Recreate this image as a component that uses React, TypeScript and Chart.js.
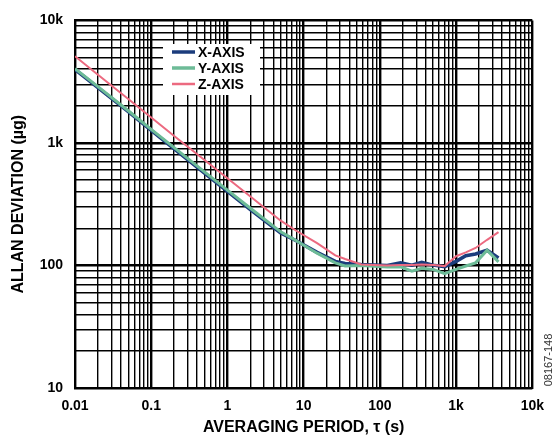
import React, { useEffect, useRef } from "react";
import { Chart, registerables } from "chart.js";

Chart.register(...registerables);

// ---- data ----
const tau = [0.01, 0.02, 0.05, 0.1, 0.2, 0.5, 1, 2, 5, 8, 15, 26, 35, 57, 125, 187, 263, 354, 500, 708, 1000, 1340, 1800, 2550, 3600];
const xAxisDev = [3980, 2830, 1800, 1265, 895, 568, 403, 286, 184, 159, 128, 108, 104, 102, 100, 105, 100.6, 106, 100.6, 97.5, 108, 120, 124, 133, 115];
const yAxisDev = [4040, 2880, 1830, 1290, 915, 580, 412, 293, 188, 159, 126, 105, 99, 100, 97, 97.5, 90, 94.7, 92.9, 85.6, 93, 99, 105, 133, 107];
const zAxisDev = [5090, 3600, 2280, 1610, 1140, 725, 515, 365, 232, 192, 152, 121, 113, 102, 100, 101, 101, 102, 101, 98.8, 119, 128, 139, 162, 187];

const seriesLabels = ["X-AXIS", "Y-AXIS", "Z-AXIS"];
const seriesColors = ["#1b3c7c", "#6dbb97", "#ec6a80"];

const xTickLabels = ["0.01", "0.1", "1", "10", "100", "1k", "10k"];
const yTickLabels = ["10", "100", "1k", "10k"];
const xDecadeExps = [-2, -1, 0, 1, 2, 3, 4];
const yDecadeExps = [1, 2, 3, 4];

const xTitle = "AVERAGING PERIOD, τ (s)";
const yTitle = "ALLAN DEVIATION (µg)";
const figureId = "08167-148";

const FONT = '"Liberation Sans", Arial, Helvetica, sans-serif';

function gridValues(exps: number[]) {
  const vals: number[] = [];
  for (let i = 0; i < exps.length - 1; i++) {
    for (let m = 1; m <= 9; m++) vals.push(Number((m * Math.pow(10, exps[i])).toPrecision(3)));
  }
  vals.push(Math.pow(10, exps[exps.length - 1]));
  return vals;
}

function isDecade(v: number) {
  const l = Math.log10(v);
  return Math.abs(l - Math.round(l)) < 1e-9;
}

const overlayPlugin = {
  id: "overlay",
  afterDraw(chart: any) {
    const ctx = chart.ctx;
    ctx.save();
    // legend box
    const bx = 163, by = 44, bw = 97, bh = 51;
    ctx.fillStyle = "#ffffff";
    ctx.fillRect(bx, by, bw, bh);
    const rowY = [52, 68, 84];
    chart.data.datasets.forEach((ds: any, i: number) => {
      ctx.strokeStyle = ds.borderColor;
      ctx.lineWidth = i === 2 ? 2.5 : 3.5;
      ctx.beginPath();
      ctx.moveTo(172, rowY[i]);
      ctx.lineTo(195, rowY[i]);
      ctx.stroke();
      ctx.fillStyle = "#000";
      ctx.font = "bold 14px " + FONT;
      ctx.textBaseline = "middle";
      ctx.textAlign = "left";
      ctx.fillText(ds.label, 198, rowY[i] + 1);
    });
    // figure id
    ctx.translate(549, 360);
    ctx.rotate(-Math.PI / 2);
    ctx.fillStyle = "#333";
    ctx.font = "11px " + FONT;
    ctx.textAlign = "center";
    ctx.textBaseline = "middle";
    ctx.fillText(figureId, 0, 0);
    ctx.restore();
  },
};

export default function App() {
  const ref = useRef<HTMLCanvasElement>(null);
  useEffect(() => {
    if (!ref.current) return;
    const mk = (vals: number[]) => tau.map((t, i) => ({ x: t, y: vals[i] }));
    const xGrid = gridValues(xDecadeExps);
    const yGrid = gridValues(yDecadeExps);
    const chart = new Chart(ref.current, {
      type: "line",
      data: {
        datasets: [
          { label: seriesLabels[0], data: mk(xAxisDev), borderColor: seriesColors[0], borderWidth: 3.5, order: 3 },
          { label: seriesLabels[1], data: mk(yAxisDev), borderColor: seriesColors[1], borderWidth: 3, order: 2 },
          { label: seriesLabels[2], data: mk(zAxisDev), borderColor: seriesColors[2], borderWidth: 2, order: 1 },
        ],
      },
      options: {
        animation: false,
        responsive: false,
        events: [],
        elements: { point: { radius: 0 }, line: { tension: 0, fill: false } },
        layout: { padding: { top: 17, right: 13, left: 0, bottom: 0 } },
        plugins: { legend: { display: false }, tooltip: { enabled: false } },
        scales: {
          x: {
            type: "logarithmic",
            min: 0.01,
            max: 10000,
            afterBuildTicks: (scale: any) => {
              scale.ticks = xGrid.map((v) => ({ value: v, major: isDecade(v) }));
            },
            afterFit: (scale: any) => {
              scale.height = 50;
            },
            grid: {
              color: "#000",
              lineWidth: (c: any) => (c.tick && isDecade(c.tick.value) ? 2.4 : 1.4),
              drawTicks: false,
            },
            border: { display: true, color: "#000", width: 2 },
            ticks: {
              autoSkip: false,
              maxRotation: 0,
              padding: 10,
              color: "#000",
              font: { family: FONT, size: 14, weight: "bold" },
              callback: (v: any) => (isDecade(Number(v)) ? xTickLabels[Math.round(Math.log10(Number(v))) - xDecadeExps[0]] : ""),
            },
            title: {
              display: true,
              text: xTitle,
              color: "#000",
              font: { family: FONT, size: 16, weight: "bold" },
              padding: { top: 0, bottom: 1 },
            },
          },
          y: {
            type: "logarithmic",
            min: 10,
            max: 10000,
            afterBuildTicks: (scale: any) => {
              scale.ticks = yGrid.map((v) => ({ value: v, major: isDecade(v) }));
            },
            afterFit: (scale: any) => {
              scale.width = 75;
            },
            grid: {
              color: "#000",
              lineWidth: (c: any) => (c.tick && isDecade(c.tick.value) ? 2.4 : 1.4),
              drawTicks: false,
            },
            border: { display: true, color: "#000", width: 2 },
            ticks: {
              autoSkip: false,
              padding: 12,
              color: "#000",
              font: { family: FONT, size: 14, weight: "bold" },
              callback: (v: any) => (isDecade(Number(v)) ? yTickLabels[Math.round(Math.log10(Number(v))) - yDecadeExps[0]] : ""),
            },
            title: {
              display: true,
              text: yTitle,
              color: "#000",
              font: { family: FONT, size: 16, weight: "bold" },
              padding: { top: 9, bottom: 0 },
            },
          },
        },
      },
      plugins: [overlayPlugin],
    } as any);
    return () => chart.destroy();
  }, []);
  return (
    <div style={{ position: "absolute", left: 0, top: 0, width: 554, height: 438, background: "#fff" }}>
      <canvas ref={ref} width={554} height={438} style={{ display: "block" }} />
    </div>
  );
}
